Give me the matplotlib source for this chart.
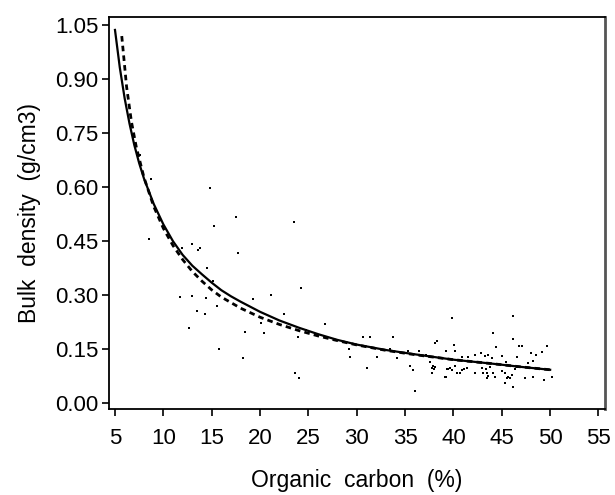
import numpy as np
import matplotlib
matplotlib.use('Agg')
import matplotlib.pyplot as plt

plt.rcParams['font.family'] = ['Liberation Sans', 'DejaVu Sans']

# observed samples: organic carbon (%) and bulk density (g/cm3)
oc = [7.59, 8.72, 8.55, 11.72, 11.96, 12.65, 12.93, 12.99, 13.45, 13.6, 13.8,
      14.31, 14.41, 14.48, 14.82, 15.1, 15.24, 15.52, 15.75, 17.48, 17.69, 18.27,
      18.44, 19.24, 20.07, 20.41, 21.13, 22.48, 23.54, 23.61, 23.89, 24.06, 24.23,
      24.72, 26.72, 29.23, 29.3, 30.68, 31.03, 31.37, 32.06, 33.44, 33.78, 34.13,
      35.27, 35.5, 35.85, 36.02, 36.44, 37.16, 37.57, 37.8, 37.9, 38.0, 38.1,
      37.8, 38.09, 38.27, 39.2, 39.2, 39.4, 39.88, 46.19, 44.12, 46.16, 46.78,
      47.12, 49.64, 40.06, 44.4, 39.23, 40.19, 48.04, 48.56, 49.2, 42.23, 42.82,
      43.26, 43.6, 43.95, 40.85, 41.54, 44.97, 45.4, 46.53, 47.74, 48.2, 39.3,
      39.64, 39.82, 40.16, 40.85, 41.09, 41.37, 40.34, 40.68, 39.13, 42.23, 43.0,
      43.37, 43.78, 43.09, 43.44, 43.6, 43.44, 44.12, 44.3, 44.99, 45.33, 45.67,
      45.85, 46.02, 45.5, 45.33, 46.12, 46.36, 46.53, 47.4, 48.26, 49.37, 50.16]
bd = [0.688, 0.620, 0.453, 0.293, 0.430, 0.206, 0.440, 0.296, 0.254, 0.425, 0.430,
      0.246, 0.289, 0.373, 0.595, 0.338, 0.490, 0.268, 0.148, 0.516, 0.416, 0.123,
      0.197, 0.287, 0.222, 0.192, 0.300, 0.246, 0.502, 0.083, 0.183, 0.067, 0.317,
      0.201, 0.217, 0.150, 0.127, 0.183, 0.097, 0.183, 0.127, 0.150, 0.183, 0.124,
      0.143, 0.101, 0.090, 0.032, 0.143, 0.132, 0.113, 0.096, 0.102, 0.093, 0.099,
      0.083, 0.164, 0.171, 0.143, 0.072, 0.092, 0.234, 0.241, 0.194, 0.176, 0.158,
      0.158, 0.158, 0.160, 0.153, 0.142, 0.143, 0.137, 0.132, 0.141, 0.132, 0.138,
      0.129, 0.132, 0.123, 0.126, 0.126, 0.129, 0.113, 0.126, 0.111, 0.115, 0.092,
      0.095, 0.090, 0.101, 0.090, 0.092, 0.095, 0.081, 0.083, 0.072, 0.081, 0.095,
      0.092, 0.098, 0.083, 0.081, 0.074, 0.067, 0.083, 0.072, 0.088, 0.081, 0.072,
      0.067, 0.076, 0.067, 0.053, 0.044, 0.092, 0.098, 0.067, 0.072, 0.0625, 0.070]

# fitted curves
fit1_x = [5.0, 5.5, 6.0, 6.5, 7.0, 7.5, 8.0, 9.0, 10.0, 11.0, 12.0, 13.0, 14.0,
          15.0, 16.0, 17.0, 18.0, 20.0, 22.0, 24.0, 26.0, 28.0, 30.0, 33.0, 36.0,
          40.0, 44.0, 47.0, 50.0]
fit1_y = [1.035, 0.930, 0.845, 0.775, 0.715, 0.665, 0.622, 0.552, 0.495, 0.448,
          0.410, 0.380, 0.356, 0.333, 0.312, 0.295, 0.280, 0.252, 0.228, 0.208,
          0.190, 0.174, 0.161, 0.146, 0.134, 0.119, 0.108, 0.099, 0.091]
fit2_x = [5.7, 6.2, 6.7, 7.2, 8.0, 9.0, 10.0, 11.0, 12.0, 13.0, 14.0, 15.0, 16.0,
          18.0, 20.0, 22.0, 24.0, 26.0, 28.0, 30.0, 33.0, 36.0, 40.0, 44.0, 47.0, 50.0]
fit2_y = [1.018, 0.877, 0.780, 0.710, 0.625, 0.545, 0.484, 0.436, 0.397, 0.364,
          0.337, 0.313, 0.293, 0.262, 0.237, 0.217, 0.200, 0.185, 0.172, 0.160,
          0.145, 0.133, 0.119, 0.108, 0.099, 0.091]

xticks = [5, 10, 15, 20, 25, 30, 35, 40, 45, 50, 55]
yticks = [0.00, 0.15, 0.30, 0.45, 0.60, 0.75, 0.90, 1.05]

fig = plt.figure(figsize=(6.15, 4.95), dpi=100)
ax = fig.add_axes([0.1777, 0.1737, 0.806, 0.792])

ax.scatter(oc, bd, s=3.5, color='k', marker='s', linewidths=0)
ax.plot(fit1_x, fit1_y, color='k', linewidth=1.6)
ax.plot(fit2_x, fit2_y, color='k', linewidth=2.0, linestyle=(0, (2.0, 1.5)))

ax.set_xlim(4.41, 55.67)
ax.set_ylim(-0.018, 1.071)
ax.set_xticks(xticks)
ax.set_yticks(yticks)
ax.set_yticklabels(['%.2f' % v for v in yticks])
ax.tick_params(labelsize=16, length=5, width=1.2, direction='out')
ax.tick_params(axis='x', pad=9)
ax.tick_params(axis='y', pad=3)
for sp in ax.spines.values():
    sp.set_linewidth(1.3)
ax.spines['right'].set_color('#555555')
ax.spines['right'].set_linewidth(2)

ax.set_xlabel('Organic  carbon  (%)', fontsize=16.5, labelpad=14)
ax.set_ylabel('Bulk  density  (g/cm3)', fontsize=16.5, labelpad=10)

fig.savefig('out.png', dpi=100)
